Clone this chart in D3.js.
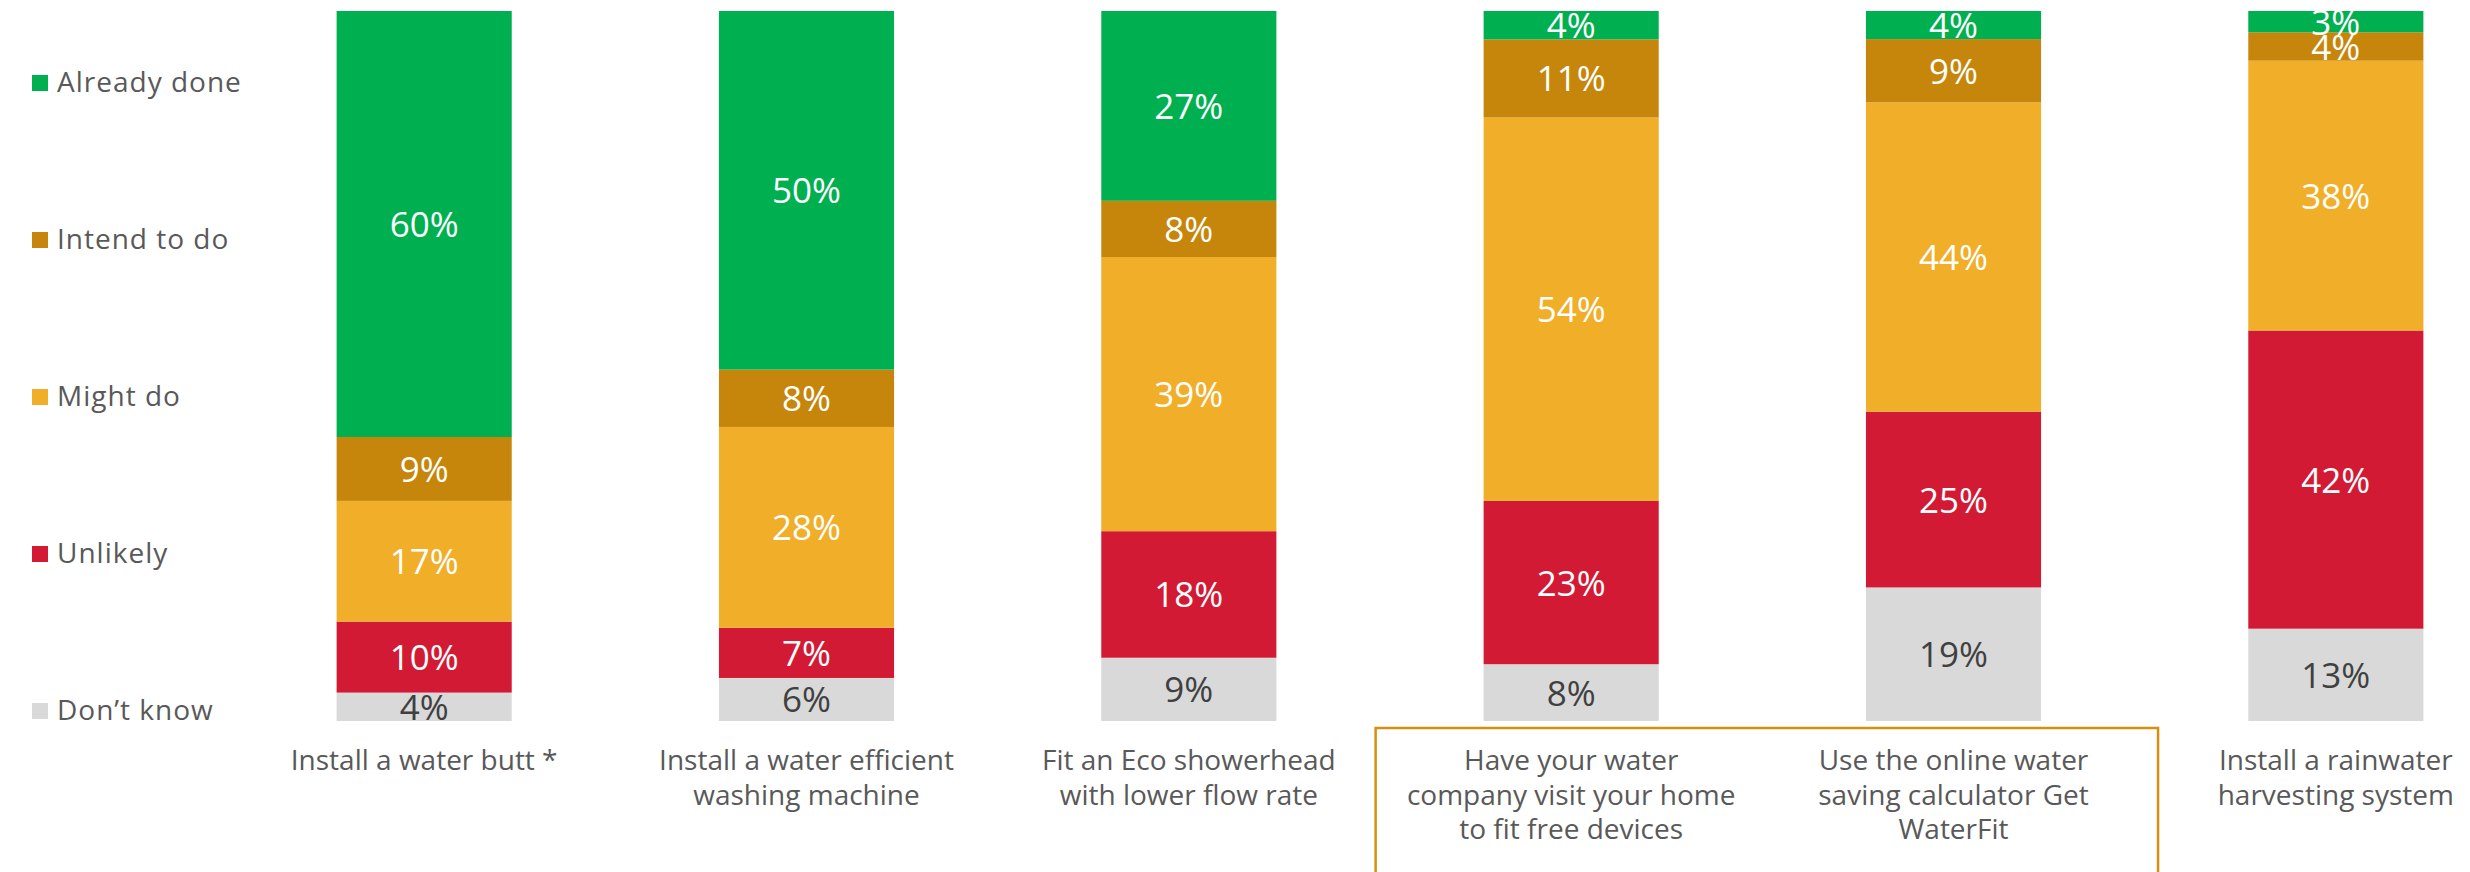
<!DOCTYPE html>
<html>
<head>
<meta charset="utf-8">
<script src="https://cdn.jsdelivr.net/npm/d3@7"></script>
<style>
  html, body { margin: 0; padding: 0; background: #ffffff; }
  svg { display: block; }
  text { font-family: "Open Sans", "DejaVu Sans", sans-serif; }
</style>
</head>
<body>
<svg id="chart" width="2470" height="872"></svg>
<script>
// Survey actions (x categories), each label split into its display lines
const categories = ["butt", "washer", "shower", "visit", "calculator", "rainwater"];
const categoryLines = [
  ["Install a water butt *"],
  ["Install a water efficient", "washing machine"],
  ["Fit an Eco showerhead", "with lower flow rate"],
  ["Have your water", "company visit your home", "to fit free devices"],
  ["Use the online water", "saving calculator Get", "WaterFit"],
  ["Install a rainwater", "harvesting system"]
];

// Response shares (%) per action
const alreadyDone = [60, 50, 27, 4, 4, 3];
const intendToDo  = [9, 8, 8, 11, 9, 4];
const mightDo     = [17, 28, 39, 54, 44, 38];
const unlikely    = [10, 7, 18, 23, 25, 42];
const dontKnow    = [4, 6, 9, 8, 19, 13];

// Legend entries, top to bottom
const seriesNames  = ["Already done", "Intend to do", "Might do", "Unlikely", "Don\u2019t know"];
const seriesValues = [alreadyDone, intendToDo, mightDo, unlikely, dontKnow];
const seriesColors = ["#00B050", "#C5860B", "#F0AE29", "#D31A35", "#D9D9D9"];

const svg = d3.select("#chart");

// Table for the stack: one row per category
const rows = categories.map((c, i) => {
  const r = { category: c };
  seriesNames.forEach((s, k) => { r[s] = seriesValues[k][i]; });
  return r;
});

// Stack from the bottom: Don't know first, Already done on top, normalised to 100%
const stackKeys = seriesNames.slice().reverse();
const stacked = d3.stack().keys(stackKeys).offset(d3.stackOffsetExpand)(rows);

const x = d3.scaleBand()
  .domain(categories)
  .range([233, 2527])
  .paddingInner(0.542)
  .paddingOuter(0.271);

const y = d3.scaleLinear().domain([0, 1]).range([721, 11]);

const color = d3.scaleOrdinal().domain(seriesNames).range(seriesColors);

// Plot-area clip so labels of thin top segments stay inside the bars' frame
svg.append("defs").append("clipPath").attr("id", "plot-clip")
  .append("rect").attr("x", 0).attr("y", y(1)).attr("width", 2470).attr("height", y(0) - y(1) + 40);

// Bars
const layers = svg.append("g").attr("clip-path", "url(#plot-clip)").selectAll("g")
  .data(stacked)
  .join("g")
  .attr("fill", d => color(d.key));

layers.selectAll("rect")
  .data(d => d.map(p => ({ key: d.key, p })))
  .join("rect")
  .attr("x", d => x(d.p.data.category))
  .attr("width", x.bandwidth())
  .attr("y", d => y(d.p[1]))
  .attr("height", d => y(d.p[0]) - y(d.p[1]));

// Value labels centred in each segment
layers.selectAll("text")
  .data(d => d.map(p => ({ key: d.key, p })))
  .join("text")
  .attr("x", d => x(d.p.data.category) + x.bandwidth() / 2)
  .attr("y", d => (y(d.p[0]) + y(d.p[1])) / 2 + 13)
  .attr("text-anchor", "middle")
  .attr("font-size", 35)
  .attr("fill", d => d.key === "Don\u2019t know" ? "#404040" : "#ffffff")
  .text(d => d.p.data[d.key] + "%");

// Outline around the two highlighted actions
const boxLeft = x("visit") - 108;
const boxRight = x("calculator") + x.bandwidth() + 117;
svg.append("rect")
  .attr("x", boxLeft)
  .attr("y", 728)
  .attr("width", boxRight - boxLeft)
  .attr("height", 200)
  .attr("fill", "none")
  .attr("stroke", "#D4900E")
  .attr("stroke-width", 2.5);

// Category labels
const catLabels = svg.append("g")
  .attr("font-size", 28)
  .attr("fill", "#595959")
  .attr("text-anchor", "middle");

catLabels.selectAll("text")
  .data(categories)
  .join("text")
  .attr("x", d => x(d) + x.bandwidth() / 2)
  .attr("y", 770)
  .each(function(d, i) {
    d3.select(this).selectAll("tspan")
      .data(categoryLines[i])
      .join("tspan")
      .attr("x", x(d) + x.bandwidth() / 2)
      .attr("dy", (l, j) => j === 0 ? 0 : 34.5)
      .text(l => l);
  });

// Legend
const legend = svg.append("g");
const legendY = d3.scalePoint().domain(seriesNames).range([83, 711]);

const items = legend.selectAll("g")
  .data(seriesNames)
  .join("g")
  .attr("transform", d => `translate(32,${legendY(d)})`);

items.append("rect")
  .attr("x", 0)
  .attr("y", -8)
  .attr("width", 16)
  .attr("height", 16)
  .attr("fill", d => color(d));

items.append("text")
  .attr("x", 25)
  .attr("y", 9)
  .attr("font-size", 28)
  .attr("letter-spacing", 1)
  .attr("fill", "#595959")
  .text(d => d);
</script>
</body>
</html>
